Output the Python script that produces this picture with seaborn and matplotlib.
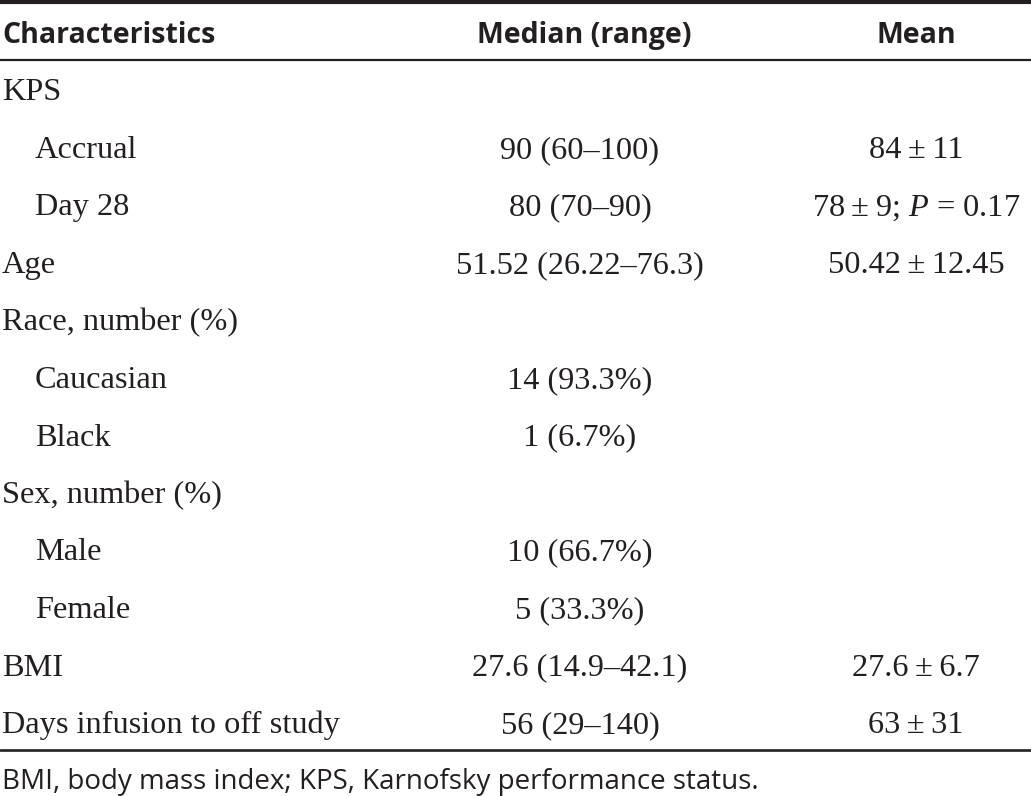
"""
Patient characteristics table redrawn with matplotlib text on a seaborn white theme
"""
import matplotlib
matplotlib.use("Agg")
import matplotlib.pyplot as plt
import seaborn as sns

# ── Table content ───────────────────────────────────────────────────────────
header = ["Characteristics", "Median (range)", "Mean"]

characteristics = ["KPS", "Accrual", "Day 28", "Age", "Race, number (%)",
                   "Caucasian", "Black", "Sex, number (%)", "Male", "Female",
                   "BMI", "Days infusion to off study"]
is_sub = [False, True, True, False, False, True, True, False, True, True,
          False, False]
median_range = ["", "90 (60–100)", "80 (70–90)", "51.52 (26.22–76.3)", "",
                "14 (93.3%)", "1 (6.7%)", "", "10 (66.7%)", "5 (33.3%)",
                "27.6 (14.9–42.1)", "56 (29–140)"]
mean_sd = ["", "84\u2009±\u200911", "78\u2009±\u20099; $P$ = 0.17",
           "50.42\u2009±\u200912.45", "", "", "", "", "", "",
           "27.6\u2009±\u20096.7", "63\u2009±\u200931"]

footnote = "BMI, body mass index; KPS, Karnofsky performance status."

# ── Style ───────────────────────────────────────────────────────────────────
sns.set_theme(style="white")
plt.rcParams["mathtext.fontset"] = "custom"
plt.rcParams["mathtext.rm"] = "Liberation Serif"
plt.rcParams["mathtext.it"] = "Liberation Serif:italic"

ink = "#231f20"
serif = "Liberation Serif"
sans = "Open Sans"
body_fs = 23.3

fig = plt.figure(figsize=(10.31, 7.96), dpi=100)
ax = fig.add_axes([0, 0, 1, 1])
ax.set_xlim(0, 1031)
ax.set_ylim(796, 0)
ax.axis("off")

col_x = [2, 584, 916]
row0, step = 100.5, 57.5

# rules
ax.axhline(2, color=ink, lw=3.0)
ax.axhline(59.5, color=ink, lw=1.6)
ax.axhline(749.5, color=ink, lw=1.9)

# header
ax.text(col_x[0], 43, header[0], ha="left", va="baseline", fontsize=20.5,
        fontweight="bold", family=sans, color=ink)
for x, h in zip(col_x[1:], header[1:]):
    ax.text(x, 43, h, ha="center", va="baseline", fontsize=20.5,
            fontweight="bold", family=sans, color=ink)

# body
for i, (name, sub, med, mn) in enumerate(zip(characteristics, is_sub,
                                              median_range, mean_sd)):
    y = row0 + i * step
    ax.text(col_x[0] + (33 if sub else 0), y, name, ha="left", va="baseline",
            fontsize=body_fs, family=serif, color=ink)
    if med:
        ax.text(col_x[1] - 4, y, med, ha="center", va="baseline",
                fontsize=body_fs, family=serif, color=ink)
    if mn:
        ax.text(col_x[2], y, mn, ha="center", va="baseline",
                fontsize=body_fs, family=serif, color=ink)

ax.text(col_x[0], 789, footnote, ha="left", va="baseline", fontsize=20,
        family=sans, color=ink)

fig.savefig("out.png", dpi=100)
plt.close()
